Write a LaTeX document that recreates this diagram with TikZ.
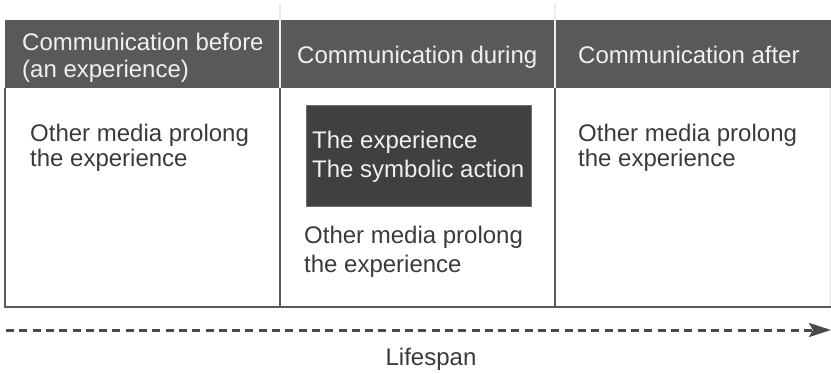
\documentclass[tikz,border=0pt]{standalone}
\usepackage{fontspec}
\setmainfont{Liberation Sans}
\usetikzlibrary{arrows.meta}
\definecolor{hdrfill}{HTML}{595959}
\definecolor{hdrtext}{HTML}{F0F0F0}
\definecolor{sepline}{HTML}{EEEEEE}
\definecolor{gridline}{HTML}{5A5A5A}
\definecolor{bodytext}{HTML}{3A3A3A}
\definecolor{boxfill}{HTML}{404040}
\definecolor{boxedge}{HTML}{6E6E6E}
\definecolor{arrowcol}{HTML}{4A4A4A}
\tikzset{
  hdrlabel/.style={text=hdrtext, align=left, inner sep=0pt, anchor=base west,
    font=\fontsize{24}{27}\selectfont},
  celltext/.style={text=bodytext, align=left, inner sep=0pt, anchor=base west,
    font=\fontsize{24}{25}\selectfont},
  celltextwide/.style={celltext, font=\fontsize{24}{29}\selectfont},
  darkbox/.style={fill=boxfill, draw=boxedge, line width=1pt},
  darktext/.style={text=hdrtext, align=left, inner sep=0pt, anchor=base west,
    font=\fontsize{24}{29}\selectfont},
  gridrule/.style={draw=gridline, line width=2.4pt},
  seprule/.style={draw=sepline, line width=2pt},
  lifearrow/.style={draw=arrowcol, line width=3pt, dash pattern=on 8pt off 5.3pt,
    -{Stealth[length=22pt,width=14pt,inset=4pt]}},
}
\begin{document}
\begin{tikzpicture}[x=1pt,y=-1pt]
\useasboundingbox (0,0) rectangle (831,373);
% header band
\fill[hdrfill] (5,20) rectangle (831,88);
% separators through header
\draw[seprule] (280,3) -- (280,88);
\draw[seprule] (555,3) -- (555,88);
% grid body
\draw[gridrule] (5,88) -- (5,307) -- (831,307);
\draw[gridrule] (280,88) -- (280,307);
\draw[gridrule] (555,88) -- (555,307);
\draw[draw=sepline, line width=1.5pt] (830,88) -- (830,306);
% header labels (anchor = baseline of last line)
\node[hdrlabel] (h1) at (22,77) {Communication before\\(an experience)};
\node[hdrlabel] (h2) at (297,63) {Communication during};
\node[hdrlabel] (h3) at (578,63) {Communication after};
% column 1
\node[celltext] (c1) at (30,166) {Other media prolong\\the experience};
% column 2
\path[darkbox] (306,105) rectangle (531,206);
\node[darktext] (exp) at (312,177) {The experience\\The symbolic action};
\node[celltextwide] (c2) at (304,272) {Other media prolong\\the experience};
% column 3
\node[celltext] (c3) at (578,166) {Other media prolong\\the experience};
% lifespan
\coordinate (ls) at (6,330);
\coordinate (le) at (831,330);
\draw[lifearrow] (ls) -- (le);
\node[text=bodytext, inner sep=0pt, anchor=base, font=\fontsize{24}{27}\selectfont] (life) at (431,365) {Lifespan};
\end{tikzpicture}
\end{document}
